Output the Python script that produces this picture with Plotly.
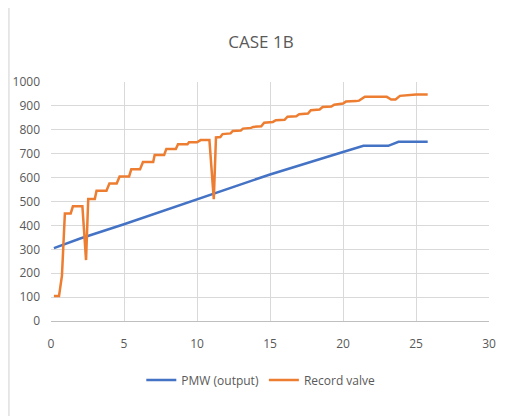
import plotly.graph_objects as go

_BLUE = "#4472C4"
_ORANGE = "#ED7D31"
_TEXT = "#595959"
_GRID = "#D9D9D9"

pmw_x = [0.2, 2.0, 5.0, 10.0, 15.0, 20.0, 21.4, 23.1, 23.8, 25.8]
pmw_y = [305, 345, 405, 510, 613, 707, 733, 733, 750, 750]

valve_x = [
    0.2, 0.55, 0.75, 0.95, 1.35, 1.5, 2.15, 2.4, 2.55, 3.0, 3.12, 3.8, 4.0,
    4.5, 4.7, 5.35, 5.5, 6.1, 6.3, 7.0, 7.1, 7.75, 7.9, 8.55, 8.7, 9.35, 9.45,
    10.0, 10.25, 10.85, 11.15, 11.3, 11.6, 11.75, 12.3, 12.45, 13.0, 13.15,
    13.7, 13.85, 14.4, 14.6, 15.2, 15.4, 16.0, 16.2, 16.8, 17.0, 17.6, 17.8,
    18.4, 18.6, 19.2, 19.4, 20.0, 20.2, 20.9, 21.1, 21.5, 23.0, 23.3, 23.6,
    23.9, 24.5, 25.0, 25.8,
]
valve_y = [
    105, 105, 190, 450, 450, 480, 480, 255, 510, 510, 545, 545, 575,
    575, 605, 605, 635, 635, 665, 665, 695, 695, 720, 720, 740, 740, 748,
    748, 757, 757, 510, 768, 770, 782, 785, 795, 797, 805,
    808, 812, 815, 830, 833, 840, 842, 855, 857, 865, 868, 882,
    885, 895, 897, 905, 910, 918, 920, 922, 938, 938, 927, 927,
    942, 945, 948, 948,
]

fig = go.Figure()
fig.add_trace(go.Scatter(
    x=pmw_x, y=pmw_y, mode="lines", name="PMW (output)",
    line=dict(color=_BLUE, width=2.5),
))
fig.add_trace(go.Scatter(
    x=valve_x, y=valve_y, mode="lines", name="Record valve",
    line=dict(color=_ORANGE, width=2.5),
))

# page body adds an 8px offset, so the figure is sized to fit the window
fig.update_layout(
    width=506, height=408,
    paper_bgcolor="#ffffff", plot_bgcolor="#ffffff",
    font=dict(family="Open Sans, sans-serif", color=_TEXT, size=12),
    title=dict(text="CASE 1B", x=0.5, xanchor="center", y=0.917, yanchor="middle",
               font=dict(size=17, color=_TEXT)),
    margin=dict(l=43, r=25, t=74, b=95, autoexpand=False),
    showlegend=True,
    legend=dict(orientation="h", x=0.479, xanchor="center", y=-0.247,
                yanchor="middle", font=dict(size=12, color=_TEXT)),
    shapes=[dict(type="line", xref="paper", yref="paper",
                 x0=-0.096, x1=-0.096, y0=-0.42, y1=1.32,
                 line=dict(color="#D0D0D0", width=1))],
)
fig.update_xaxes(
    range=[0, 30], dtick=5, showgrid=True, gridcolor=_GRID, zeroline=False,
    showline=True, linecolor="#BFBFBF", ticks="", tickfont=dict(color=_TEXT),
    automargin=False, ticklabelstandoff=12,
)
fig.update_yaxes(
    range=[0, 1000], dtick=100, showgrid=True, gridcolor=_GRID, zeroline=False,
    showline=False, ticks="", tickfont=dict(color=_TEXT),
    automargin=False, ticklabelstandoff=10,
)

fig.write_html("out.html")
